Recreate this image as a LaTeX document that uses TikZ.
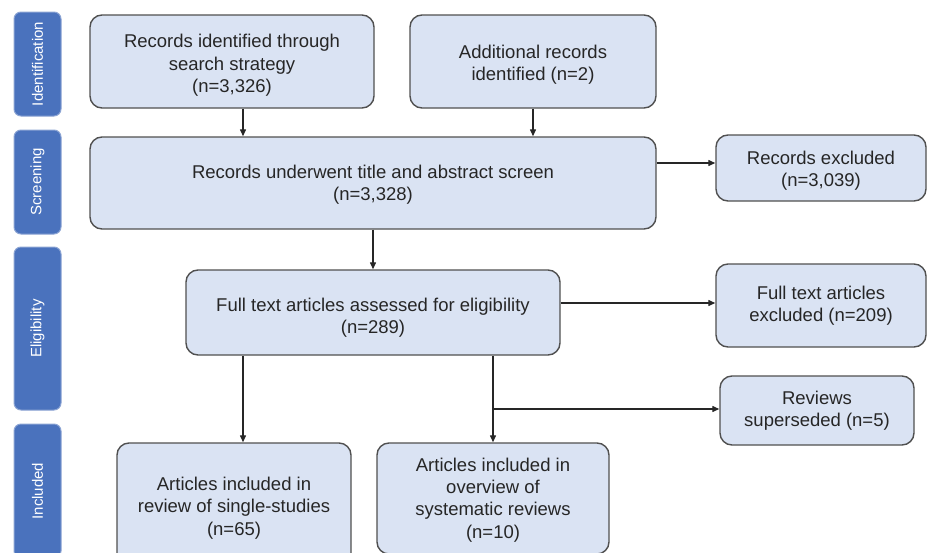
\documentclass[tikz,border=0pt]{standalone}
\usepackage{fontspec}
\setmainfont{Liberation Sans}
\usetikzlibrary{arrows.meta}
\definecolor{boxfill}{HTML}{DAE3F3}
\definecolor{boxline}{HTML}{505050}
\definecolor{barfill}{HTML}{4A72BD}
\definecolor{barline}{HTML}{8AA3D3}
\definecolor{txt}{HTML}{262626}
\begin{document}
\begin{tikzpicture}[x=1pt,y=-1pt,
  box/.style={draw=boxline, line width=1.4pt, fill=boxfill, rounded corners=12pt, inner sep=0pt},
  lbl/.style={align=center, font=\fontsize{18.5}{22.3}\selectfont, text=txt, inner sep=0pt},
  bar/.style={draw=barline, line width=1pt, fill=barfill, rounded corners=7pt,
    rotate=90, minimum height=47pt, inner sep=0pt, text=white,
    font=\fontsize{15}{18}\selectfont},
  arr/.style={-{Triangle[length=7pt,width=6pt]}, line width=1.3pt, draw=txt}]
\useasboundingbox (0,0) rectangle (927,552);
\clip (0,0) rectangle (927,552);
% phase bars
\node[bar, minimum width=104pt] (p1) at (37.5,64) {Identification};
\node[bar, minimum width=104pt] (p2) at (37.5,182) {Screening};
\node[bar, minimum width=163pt] (p3) at (37.5,328.5) {Eligibility};
\node[bar, minimum width=134pt] (p4) at (37.5,491) {Included};
% boxes
\node[box, minimum width=284pt, minimum height=93pt] (A) at (232,61.5) {};
\node[box, minimum width=246pt, minimum height=93pt] (B) at (533,61.5) {};
\node[box, minimum width=566pt, minimum height=92pt] (C) at (373,183) {};
\node[box, minimum width=210pt, minimum height=66pt] (D) at (821,168) {};
\node[box, minimum width=374pt, minimum height=85pt] (E) at (373,312.5) {};
\node[box, minimum width=210pt, minimum height=83pt] (F) at (821,305.5) {};
\node[box, minimum width=194pt, minimum height=69pt] (G) at (817,410.5) {};
\node[box, minimum width=234pt, minimum height=126pt] (H) at (234,506) {};
\node[box, minimum width=232pt, minimum height=111pt] (I) at (493,498.5) {};
% texts
\node[lbl] (At) at ([yshift=-4pt]A.center) {Records identified through\\search strategy\\(n=3,326)};
\node[lbl] (Bt) at ([yshift=-3pt]B.center) {Additional records\\identified (n=2)};
\node[lbl] (Ct) at ([yshift=-2pt]C.center) {Records underwent title and abstract screen\\(n=3,328)};
\node[lbl] (Dt) at ([yshift=-3pt]D.center) {Records excluded\\(n=3,039)};
\node[lbl] (Et) at ([yshift=-5pt]E.center) {Full text articles assessed for eligibility\\(n=289)};
\node[lbl] (Ft) at ([yshift=0pt]F.center) {Full text articles\\excluded (n=209)};
\node[lbl] (Gt) at ([yshift=0pt]G.center) {Reviews\\superseded (n=5)};
\node[lbl] (Ht) at ([yshift=-2pt]H.center) {Articles included in\\review of single-studies\\(n=65)};
\node[lbl] (It) at ([yshift=-1.5pt]I.center) {Articles included in\\overview of\\systematic reviews\\(n=10)};
% connectors
\coordinate (ax) at (243,0);
\coordinate (cd) at (0,163);
\coordinate (ef) at (0,303);
\coordinate (br) at (493,409);
\draw[arr] (A.south -| ax) -- (C.north -| ax);
\draw[arr] (B.south) -- (B.south |- C.north);
\draw[arr] (C.south) -- (E.north);
\draw[arr] (C.east |- cd) -- (D.west |- cd);
\draw[arr] (E.east |- ef) -- (F.west |- ef);
\draw[arr] (E.south -| ax) -- (H.north -| ax);
\draw[arr] (E.south -| I.north) -- (I.north);
\draw[arr] (br) -- (G.west |- br);
\end{tikzpicture}
\end{document}
